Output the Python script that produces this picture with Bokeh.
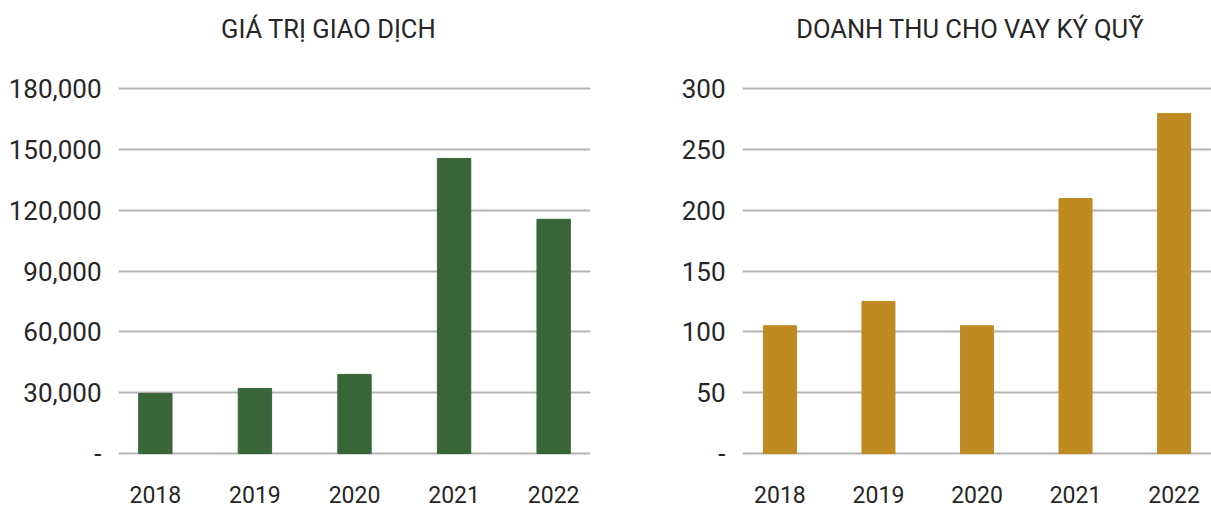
from bokeh.plotting import figure
from bokeh.layouts import row
from bokeh.models import FactorRange, Range1d, FixedTicker, NumeralTickFormatter, Label
from bokeh.embed import file_html
from bokeh.resources import INLINE

years = ["2018", "2019", "2020", "2021", "2022"]
trading_value = [29600, 32000, 39000, 145500, 115500]
margin_revenue = [105, 125, 105, 209.5, 279.5]
left_ticks = [0, 30000, 60000, 90000, 120000, 150000, 180000]
right_ticks = [0, 50, 100, 150, 200, 250, 300]
left_title = "GIÁ TRỊ GIAO DỊCH"
right_title = "DOANH THU CHO VAY KÝ QUỸ"

FONT = "Roboto"
TEXT = "#262626"

AXIS_PX = 365.0   # pixel height of the 0..top tick span
TOP_SPACE = 88.0  # space above the top gridline (title lives there)
TITLE_PX = 60.0   # title centre above top gridline


def make(values, ticks, color, title, width, border_left, border_right, title_x, fmt, padding):
    top = ticks[-1]
    pad = top * 2 / AXIS_PX
    p = figure(
        width=width, height=507,
        x_range=FactorRange(*years, range_padding=padding, range_padding_units="absolute"),
        y_range=Range1d(-pad, top * (1 + TOP_SPACE / AXIS_PX)),
        output_backend="svg", toolbar_location=None, title_location=None,
        min_border_left=border_left, min_border_right=border_right,
        min_border_top=0, min_border_bottom=52,
    )
    p.vbar(x=years, top=values, width=0.335, color=color)
    p.outline_line_color = None
    p.background_fill_color = "white"
    p.border_fill_color = "white"
    p.xgrid.grid_line_color = None
    p.ygrid.ticker = FixedTicker(ticks=ticks)
    p.ygrid.grid_line_color = "#b4b4b4"
    p.ygrid.grid_line_width = 2

    p.yaxis.ticker = FixedTicker(ticks=ticks)
    p.yaxis.formatter = NumeralTickFormatter(format=fmt)
    p.yaxis.major_label_overrides = {0: "-"}
    for ax in (p.xaxis[0], p.yaxis[0]):
        ax.axis_line_color = None
        ax.major_tick_line_color = None
        ax.minor_tick_line_color = None
        ax.major_label_text_font = FONT
        ax.major_label_text_color = TEXT
    p.yaxis.major_label_text_font_size = "26px"
    p.yaxis.major_label_standoff = 11
    p.xaxis.major_label_text_font_size = "23px"
    p.xaxis.major_label_standoff = 24

    p.add_layout(Label(x=title_x, y=top * (1 + TITLE_PX / AXIS_PX), text=title,
                       text_align="center", text_baseline="middle", text_font=FONT,
                       text_font_size="25.5px", text_color=TEXT))
    return p


left = make(trading_value, left_ticks, "#386639", left_title, 605, 118, 15, 2.24, "0,0", -0.13)
right = make(margin_revenue, right_ticks, "#BF8A21", right_title, 606, 137, 0, 2.43, "0", -0.12)

layout = row(left, right)
open("out.html", "w").write(file_html(layout, INLINE))
